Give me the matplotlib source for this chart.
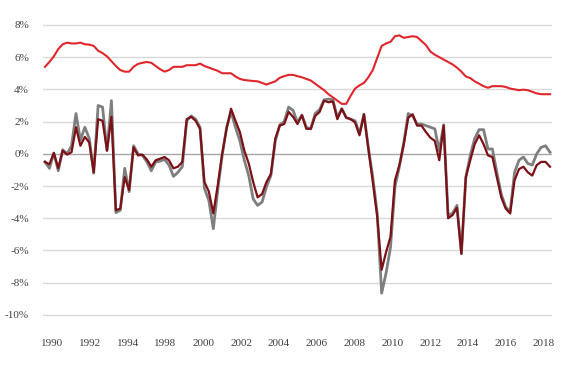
import matplotlib
matplotlib.use("Agg")
import matplotlib.pyplot as plt
import numpy as np

# quarterly series (percent)
rate = [
    5.4, 5.7, 6.05, 6.5, 6.8, 6.9, 6.85, 6.85, 6.9, 6.8,
    6.78, 6.7, 6.4, 6.25, 6.05, 5.75, 5.45, 5.2, 5.1, 5.1,
    5.4, 5.58, 5.65, 5.7, 5.65, 5.45, 5.25, 5.1, 5.2, 5.4,
    5.4, 5.4, 5.5, 5.5, 5.5, 5.6, 5.45, 5.35, 5.25, 5.15,
    5.0, 5.0, 5.0, 4.8, 4.65, 4.58, 4.55, 4.52, 4.5, 4.4,
    4.3, 4.4, 4.5, 4.72, 4.82, 4.9, 4.9, 4.82, 4.75, 4.65,
    4.55, 4.35, 4.15, 3.95, 3.7, 3.5, 3.3, 3.1, 3.1, 3.6,
    4.05, 4.25, 4.4, 4.75, 5.2, 5.95, 6.7, 6.85, 6.95, 7.3,
    7.35, 7.2, 7.25, 7.3, 7.25, 7.0, 6.75, 6.35, 6.15, 6.0,
    5.85, 5.7, 5.55, 5.35, 5.1, 4.8, 4.7, 4.5, 4.35, 4.2,
    4.1, 4.2, 4.2, 4.2, 4.15, 4.05, 4.0, 3.95, 3.98, 3.95,
    3.85, 3.75, 3.7, 3.7, 3.7,
]

series_gray = [
    -0.5, -0.9, 0.05, -1.05, 0.25, 0.0, 0.5, 2.5, 0.85, 1.65,
    0.95, -1.2, 3.0, 2.9, 0.2, 3.3, -3.65, -3.5, -0.9, -2.35,
    0.5, 0.0, -0.1, -0.5, -1.05, -0.5, -0.45, -0.35, -0.7, -1.4,
    -1.15, -0.8, 2.05, 2.35, 2.15, 1.65, -2.15, -2.9, -4.65, -2.25,
    -0.1, 1.65, 2.6, 1.65, 0.8, -0.4, -1.35, -2.8, -3.2, -3.0,
    -2.05, -1.35, 0.8, 1.8, 2.0, 2.9, 2.7, 1.95, 2.4, 1.65,
    1.55, 2.5, 2.75, 3.35, 3.4, 3.35, 2.25, 2.8, 2.25, 2.15,
    2.05, 1.25, 2.45, 0.4, -1.45, -3.7, -8.65, -7.4, -5.8, -2.05,
    -0.8, 0.7, 2.5, 2.35, 1.85, 1.85, 1.75, 1.65, 1.55, 0.2,
    1.8, -3.8, -3.7, -3.2, -6.2, -1.45, -0.1, 0.95, 1.5, 1.5,
    0.3, 0.3, -1.15, -2.5, -3.3, -3.6, -1.15, -0.4, -0.2, -0.6,
    -0.7, 0.0, 0.4, 0.5, 0.1,
]

series_dark = [
    -0.5, -0.65, 0.05, -0.9, 0.2, -0.05, 0.1, 1.65, 0.5, 1.05,
    0.7, -1.15, 2.15, 2.05, 0.2, 2.3, -3.5, -3.4, -1.45, -2.25,
    0.4, -0.1, -0.05, -0.35, -0.8, -0.4, -0.3, -0.2, -0.4, -0.9,
    -0.8, -0.5, 2.15, 2.3, 2.05, 1.55, -1.75, -2.35, -3.7, -1.95,
    0.0, 1.55, 2.8, 2.05, 1.35, 0.2, -0.6, -1.75, -2.7, -2.5,
    -1.75, -1.25, 0.95, 1.75, 1.85, 2.6, 2.3, 1.85, 2.4, 1.55,
    1.55, 2.35, 2.6, 3.3, 3.2, 3.25, 2.15, 2.8, 2.25, 2.15,
    1.95, 1.15, 2.45, 0.3, -1.75, -3.9, -7.2, -6.1, -5.15, -1.65,
    -0.7, 0.6, 2.25, 2.45, 1.75, 1.75, 1.35, 1.0, 0.8, -0.4,
    1.75, -4.0, -3.8, -3.35, -6.2, -1.45, -0.4, 0.6, 1.15, 0.6,
    -0.1, -0.2, -1.45, -2.7, -3.4, -3.7, -1.65, -0.95, -0.8, -1.15,
    -1.35, -0.7, -0.5, -0.5, -0.8,
]

year_labels = ["1990", "1992", "1994", "1998", "2000", "2002", "2004",
               "2006", "2008", "2010", "2012", "2014", "2016", "2018"]
y_ticks = [8, 6, 4, 2, 0, -2, -4, -6, -8, -10]

x = np.arange(len(rate))
label_pos = np.linspace(1.6, 112.6, len(year_labels))

plt.rcParams["font.family"] = ["Liberation Serif", "DejaVu Serif"]

fig = plt.figure(figsize=(5.7, 3.81), dpi=100)
ax = fig.add_axes([0.0754, 0.165, 0.893, 0.778])

for v in y_ticks:
    ax.axhline(v, color="#a6a6a6" if v == 0 else "#d9d9d9", lw=1.0, zorder=0)

ax.plot(x, series_gray, color="#7f7f7f", lw=2.0, zorder=2)
ax.plot(x, series_dark, color="#7b1116", lw=1.6, zorder=3)
ax.plot(x, rate, color="#e0262d", lw=1.5, zorder=4)

ax.set_xlim(-0.45, 114.45)
ax.set_ylim(-10.2, 8.2)
ax.set_yticks(y_ticks)
ax.set_yticklabels([f"{v}%" for v in y_ticks])
ax.set_xticks(label_pos)
ax.set_xticklabels(year_labels)
ax.tick_params(axis="both", length=0, labelsize=8, colors="#404040")
ax.tick_params(axis="x", pad=15)
ax.tick_params(axis="y", pad=10)
for s in ax.spines.values():
    s.set_visible(False)

fig.savefig("out.png", dpi=100)
